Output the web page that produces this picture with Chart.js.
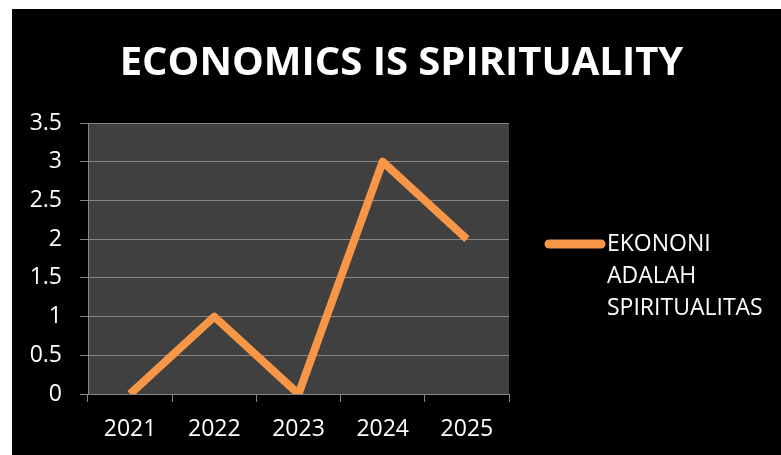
<!DOCTYPE html>
<html>
<head>
<meta charset="utf-8">
<script src="https://cdn.jsdelivr.net/npm/chart.js@4"></script>
<style>
 html,body{margin:0;padding:0;background:#fff;}
 #wrap{position:absolute;left:12px;top:9px;width:769px;height:446px;background:#000;}
</style>
</head>
<body>
<div id="wrap"><canvas id="c" width="769" height="446"></canvas></div>
<script>
const TITLE="ECONOMICS IS SPIRITUALITY";
const years=["2021","2022","2023","2024","2025"];
const values=[0,1,0,3,2];
const seriesName="EKONONI ADALAH SPIRITUALITAS";
const yMin=0,yMax=3.5,yStep=0.5;

const ORANGE="#F79646";
const GRID="#878787";
const FONT="'Open Sans', sans-serif";

/* plot background */
const plotBg={
 id:"plotBg",
 beforeDraw(chart){
  const a=chart.chartArea,ctx=chart.ctx;
  ctx.save();
  ctx.fillStyle="#404040";
  ctx.fillRect(a.left,a.top,a.right-a.left,a.bottom-a.top);
  ctx.restore();
 }
};

/* title centred over the whole canvas */
const bigTitle={
 id:"bigTitle",
 afterDraw(chart){
  const ctx=chart.ctx;
  ctx.save();
  ctx.fillStyle="#fff";
  ctx.font="bold 40px "+FONT;
  ctx.textAlign="center";
  ctx.textBaseline="middle";
  ctx.fillText(TITLE,chart.width/2+5,55);
  ctx.restore();
 }
};

/* legend on the right, wrapped one word per line */
const sideLegend={
 id:"sideLegend",
 afterDraw(chart){
  const a=chart.chartArea,ctx=chart.ctx;
  const ds=chart.data.datasets[0];
  const words=ds.label.split(" ");
  const x0=a.right+36,y0=a.top+121;
  ctx.save();
  ctx.strokeStyle=ds.borderColor;
  ctx.lineWidth=9;
  ctx.lineCap="round";
  ctx.beginPath();
  ctx.moveTo(x0+4,y0);
  ctx.lineTo(x0+56,y0);
  ctx.stroke();
  ctx.fillStyle="#fff";
  ctx.font="23px "+FONT;
  ctx.textBaseline="middle";
  words.forEach((w,i)=>ctx.fillText(w,x0+62,y0+i*32));
  ctx.restore();
 }
};

new Chart(document.getElementById("c"),{
 type:"line",
 data:{
  labels:years,
  datasets:[{
   label:seriesName,
   data:values,
   borderColor:ORANGE,
   backgroundColor:ORANGE,
   borderWidth:8,
   borderJoinStyle:"round",
   borderCapStyle:"butt",
   pointRadius:0,
   tension:0,
   clip:0
  }]
 },
 options:{
  responsive:false,
  animation:false,
  layout:{padding:{left:0,right:272,top:114,bottom:0}},
  plugins:{
   legend:{display:false},
   tooltip:{enabled:false},
   title:{display:false}
  },
  scales:{
   x:{
    offset:true,
    grid:{offset:true,drawOnChartArea:false,drawTicks:true,tickLength:8,color:GRID},
    border:{display:true,color:GRID,width:1},
    ticks:{color:"#fff",font:{family:FONT,size:23},padding:14},
    afterFit(s){s.height=61;}
   },
   y:{
    min:yMin,max:yMax,
    ticks:{stepSize:yStep,color:"#fff",font:{family:FONT,size:23},padding:18,callback:v=>String(v)},
    grid:{color:GRID,tickLength:8,lineWidth:1},
    border:{display:true,color:GRID,width:1},
    afterFit(s){s.width=76;}
   }
  }
 },
 plugins:[plotBg,bigTitle,sideLegend]
});
</script>
</body>
</html>
